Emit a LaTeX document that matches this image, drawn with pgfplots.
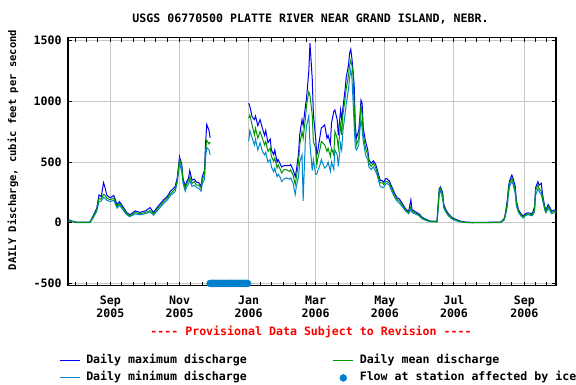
\documentclass[border=0pt]{standalone}
\usepackage{pgfplots}
\pgfplotsset{compat=1.18}
\usepackage{pgfplotstable}
\usepackage{fontspec}
\newfontfamily\mono{DejaVu Sans Mono}[Ligatures=TeXOff]
\newcommand\lab{\mono\bfseries\fontsize{11.6bp}{13bp}\selectfont}
\definecolor{cmax}{RGB}{0,0,240}
\definecolor{cmean}{RGB}{0,150,0}
\definecolor{cmin}{RGB}{0,136,204}
\definecolor{cice}{RGB}{0,128,204}
\definecolor{cgrid}{RGB}{200,200,200}
\pgfplotsset{ice legend/.style={legend image code/.code={\draw[mark repeat=2, mark phase=2, ##1] plot coordinates {(0bp,0bp) (10bp,0bp) (20bp,0bp)};}}}

\pgfplotstableread{
day max mean min
-37 25 20 15
-36 22 19 14
-34 14 12 9
-30 5 3 2
-18 5 3 2
-15 60 52 42
-12 120 107 95
-10 230 200 175
-8 215 195 180
-6 330 235 210
-5 300 230 205
-3 225 202 185
0 205 190 175
3 225 202 185
6 150 134 120
8 175 161 145
11 135 120 108
14 90 79 70
17 65 57 50
22 98 85 72
26 85 74 65
31 98 85 75
35 125 100 90
38 85 74 62
42 135 120 105
47 190 175 160
50 215 202 185
53 260 240 225
57 295 276 255
59 370 352 330
61 545 522 490
63 480 461 420
64 370 352 330
66 300 284 260
67 330 311 290
69 370 352 320
70 430 380 350
72 350 325 300
74 360 339 310
76 335 311 290
78 330 311 285
80 300 284 260
81 380 352 320
83 430 393 360
84 660 598 540
85 810 680 620
87 760 650 600
88 700 666 560
105 nan nan nan
122 985 861 670
123 960 888 760
125 875 806 700
127 850 724 640
128 880 779 690
130 800 697 600
132 850 752 660
134 780 697 590
136 720 642 560
137 760 670 580
139 660 588 500
141 690 615 520
142 600 547 460
144 560 506 420
145 600 533 450
147 500 451 380
148 520 478 400
150 480 437 370
151 460 410 340
153 470 437 360
155 470 437 370
158 470 424 360
159 480 437 370
161 440 396 330
163 380 314 232
164 430 369 300
166 580 506 380
167 730 642 500
169 850 752 560
170 800 697 180
172 960 861 700
173 1030 970 800
175 1250 1080 880
176 1480 1050 650
178 1190 888 430
179 900 670 520
181 700 615 400
182 560 478 400
183 600 533 430
185 720 615 480
186 780 670 520
189 806 642 451
191 697 588 470
192 720 615 500
194 650 547 424
195 820 615 500
197 918 560 440
198 930 752 600
200 850 697 560
201 720 615 465
203 929 806 650
204 850 724 600
205 940 888 750
207 1100 1025 900
208 1200 1107 980
210 1300 1216 1100
211 1400 1298 1200
212 1430 1339 1260
213 1353 1298 1200
214 1250 1216 1000
215 1134 970 800
216 800 724 620
217 697 642 600
219 760 697 640
220 870 833 760
221 1011 970 850
222 984 888 780
223 780 724 670
224 724 670 620
225 670 615 560
227 600 560 520
228 520 492 460
230 490 465 440
231 500 478 450
232 510 492 460
234 480 451 420
235 450 424 400
237 380 355 330
238 350 328 300
240 345 328 290
241 335 314 290
243 365 342 320
244 360 342 325
246 345 328 310
247 320 301 285
249 280 260 240
251 235 219 205
253 205 191 175
255 195 178 160
258 150 137 125
260 120 109 100
263 92 84 74
265 189 134 110
266 110 96 85
269 90 80 72
272 75 66 58
275 45 38 32
278 30 25 20
282 14 11 8
288 12 8 6
289 150 134 100
290 280 270 240
291 295 284 265
293 250 230 200
294 150 134 120
296 105 93 85
298 75 66 58
301 45 38 32
304 30 25 20
308 15 11 8
313 6 3 2
319 3 0 0
344 5 3 2
347 30 25 20
348 60 52 45
350 185 161 130
351 290 270 240
352 345 325 300
354 393 366 340
355 370 339 320
357 300 270 240
358 180 161 140
360 105 93 82
362 75 66 58
364 55 47 40
366 75 66 58
368 82 74 66
372 75 66 58
374 130 107 90
375 290 270 230
377 339 311 280
378 310 284 260
380 325 257 230
381 240 216 190
383 135 120 105
384 105 93 82
386 150 134 115
388 120 107 95
389 95 85 75
391 105 93 82
393 105 96 85
}\flow

\begin{document}
\begin{tikzpicture}[x=1bp,y=1bp]
\path[use as bounding box] (0,0) rectangle (576,384);
\begin{axis}[
  at={(60,81)}, anchor=south west, scale only axis,
  width=488bp, height=248bp,
  xmin=-37.3, xmax=393, ymin=-519, ymax=1525,
  clip=false, unbounded coords=jump,
  axis line style={line width=1.5bp},
  xtick={0,61,122,181,242,303,365},
  xticklabels={Sep\\2005,Nov\\2005,Jan\\2006,Mar\\2006,May\\2006,Jul\\2006,Sep\\2006},
  minor xtick={-31,-21,-11,10,20,30,40,50,71,81,91,101,111,132,142,153,163,173,191,201,212,222,232,252,262,273,283,293,313,323,334,344,354,375,385},
  ytick={-500,0,500,1000,1500},
  tick align=inside, major tick length=4bp, minor tick length=4bp,
  every tick/.style={black, line width=1bp},
  grid=major, major grid style={cgrid, line width=1bp},
  xticklabel style={align=center, font=\lab, yshift=-6.3bp},
  yticklabel style={font=\lab, xshift=-3bp},
  /pgf/number format/assume math mode=true,
  /pgf/number format/1000 sep={},
  legend columns=2,
  legend cell align=left,
  legend style={at={(-0.0184,-0.2823)}, anchor=north west, draw=none, fill=none,
    inner sep=0pt, row sep=7bp, font=\lab,
    nodes={inner sep=0pt, text height=8bp, text depth=2bp},
    /tikz/every odd column/.append style={column sep=6bp},
    /tikz/every even column/.append style={column sep=6.5bp}},
  legend image code/.code={\draw[#1, line width=1bp] (0bp,0bp) -- (20bp,0bp);},
]
\addplot[cmax, line width=1bp, forget plot] table[x=day, y=max] {\flow};
\addplot[cmin, line width=1bp, forget plot] table[x=day, y=min] {\flow};
\addplot[cmean, line width=1bp, forget plot] table[x=day, y=mean] {\flow};
\addplot[only marks, mark=*, mark size=3.5bp, draw=cice, fill=cice, forget plot] coordinates {
(88,-500) (89,-500) (90,-500) (91,-500) (92,-500) (93,-500) (94,-500) (95,-500)
(96,-500) (97,-500) (98,-500) (99,-500) (100,-500) (101,-500) (102,-500) (103,-500)
(104,-500) (105,-500) (106,-500) (107,-500) (108,-500) (109,-500) (110,-500) (111,-500)
(112,-500) (113,-500) (114,-500) (115,-500) (116,-500) (117,-500) (118,-500) (119,-500)
(120,-500) (121,-500)};
\addlegendimage{cmax}
\addlegendentry{\makebox[240bp][l]{Daily maximum discharge}}
\addlegendimage{cmean}
\addlegendentry{Daily mean discharge}
\addlegendimage{cmin}
\addlegendentry{\makebox[240bp][l]{Daily minimum discharge}}
\addlegendimage{only marks, mark=*, mark size=3.5bp, draw=cice, fill=cice, ice legend}
\addlegendentry{Flow at station affected by ice}
\end{axis}
\node[font=\lab] at (310.5,365) {USGS 06770500 PLATTE RIVER NEAR GRAND ISLAND, NEBR.};
\node[font=\lab, text=red] at (311,52) {---- Provisional Data Subject to Revision ----};
\node[font=\mono\bfseries\fontsize{10.5bp}{12bp}\selectfont, rotate=90] at (13,234) {DAILY Discharge, cubic feet per second};
\end{tikzpicture}
\end{document}
